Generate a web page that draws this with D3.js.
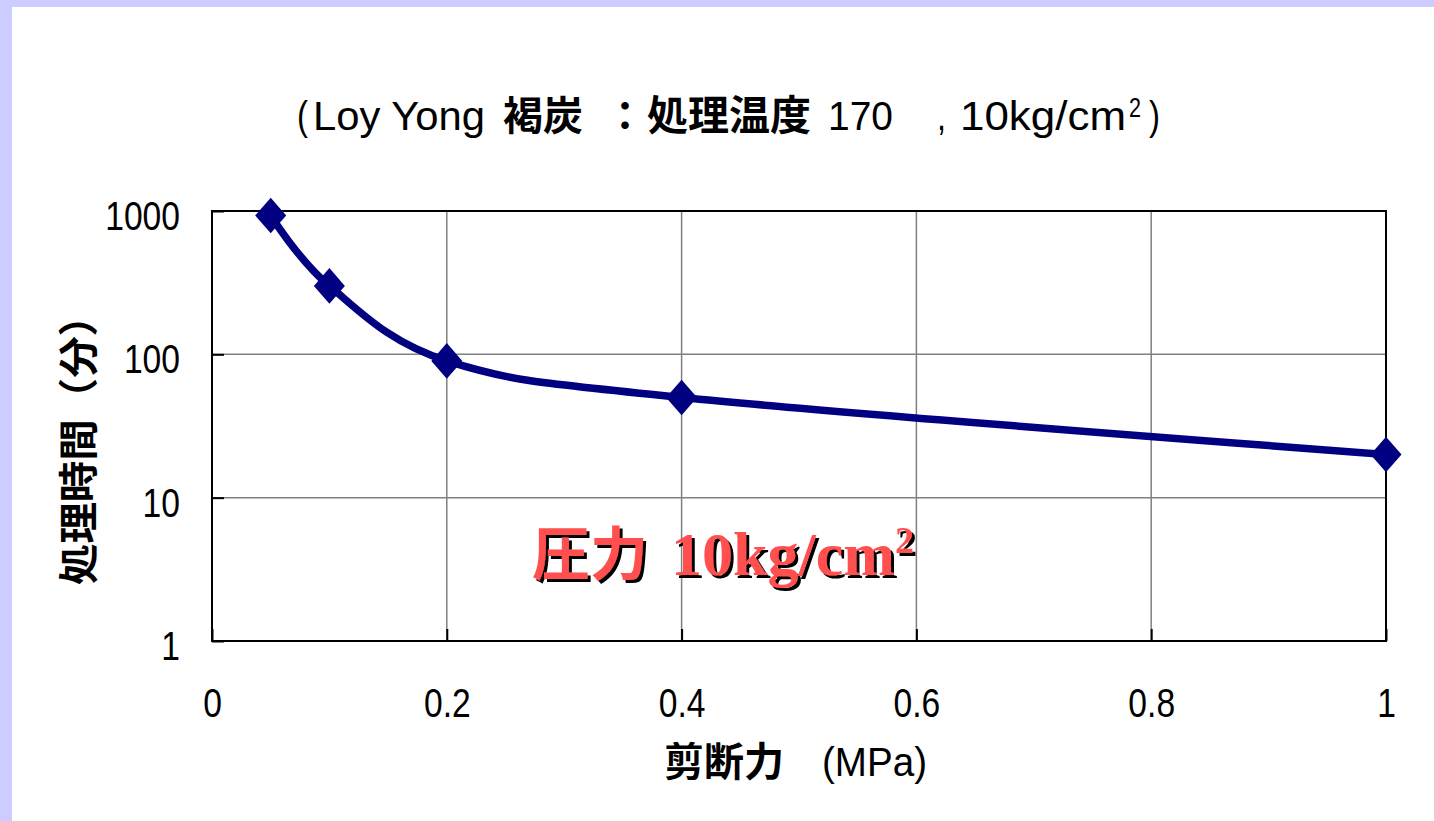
<!DOCTYPE html>
<html>
<head>
<meta charset="utf-8">
<script src="https://cdn.jsdelivr.net/npm/d3@7"></script>
<style>
  html, body { margin: 0; padding: 0; background: #ffffff; }
  svg { display: block; }
</style>
</head>
<body>
<svg id="chart" width="1434" height="821"></svg>
<script>
// Shear strength (MPa) vs. treatment time (min), Loy Yong brown coal
const shear = [0.05, 0.1, 0.2, 0.4, 1.0];
const minutes = [930, 300, 90, 50, 20];
const xTicks = [0, 0.2, 0.4, 0.6, 0.8, 1];
const yTicks = [1, 10, 100, 1000];

const CJK = "'Noto Sans CJK JP', 'Noto Sans CJK SC', sans-serif";
const SANS = "'Liberation Sans', Arial, sans-serif";
const SERIF = "'Liberation Serif', 'Times New Roman', serif";

const svg = d3.select("#chart");
const W = 1434, H = 821;

// squeeze a text horizontally (narrow-face look) by a factor, or to a fixed width
function condense(sel, factor, width) {
  sel.each(function () {
    const w = width != null ? width : this.getComputedTextLength() * factor;
    d3.select(this).attr("lengthAdjust", "spacingAndGlyphs").attr("textLength", w);
  });
}

// drop shadow used by the pressure note
const defs = svg.append("defs");
defs.append("filter").attr("id", "shadow")
  .attr("x", "-10%").attr("y", "-10%").attr("width", "120%").attr("height", "130%")
  .append("feDropShadow")
  .attr("dx", 3).attr("dy", 3).attr("stdDeviation", 0)
  .attr("flood-color", "#000").attr("flood-opacity", 1);

// slide frame
svg.append("rect").attr("width", W).attr("height", H).attr("fill", "#ffffff");
svg.append("rect").attr("x", 0).attr("y", 0).attr("width", W).attr("height", 7).attr("fill", "#ccccff");
svg.append("rect").attr("x", 0).attr("y", 0).attr("width", 12).attr("height", H).attr("fill", "#ccccff");

const plot = { left: 212, right: 1386, top: 211, bottom: 641 };
const x = d3.scaleLinear().domain([0, 1]).range([plot.left, plot.right]);
const y = d3.scaleLog().domain([1, 1000]).range([plot.bottom, plot.top]);

// grid lines
const grid = svg.append("g");
grid.selectAll("line.gx").data(xTicks.slice(1, -1)).join("line")
  .attr("x1", d => x(d)).attr("x2", d => x(d))
  .attr("y1", plot.top).attr("y2", plot.bottom)
  .attr("stroke", "#808080").attr("stroke-width", 1.5);
grid.selectAll("line.gy").data(yTicks.slice(1)).join("line")
  .attr("x1", plot.left).attr("x2", plot.right)
  .attr("y1", d => y(d)).attr("y2", d => y(d))
  .attr("stroke", "#808080").attr("stroke-width", 1.5);

// axes with short inward ticks
const xAxis = d3.axisBottom(x).tickValues(xTicks).tickSize(-12).tickPadding(76)
  .tickFormat(d => d3.format("~g")(d));
const yAxis = d3.axisLeft(y).tickValues(yTicks).tickSize(-12).tickPadding(32)
  .tickFormat(d3.format("d"));

const gx = svg.append("g").attr("transform", `translate(0,${plot.bottom})`).call(xAxis);
const gy = svg.append("g").attr("transform", `translate(${plot.left},0)`).call(yAxis);
[gx, gy].forEach(g => {
  g.select(".domain").remove();
  g.selectAll(".tick line").attr("stroke", "#000").attr("stroke-width", 2);
  g.selectAll(".tick text").attr("fill", "#000")
    .style("font-family", SANS).style("font-size", "41px");
});
gy.selectAll(".tick text").attr("dy", "0.45em");
gx.selectAll(".tick text").attr("dy", "0");
condense(gx.selectAll(".tick text"), 0.82);
condense(gy.selectAll(".tick text"), 0.82);

// plot border
svg.append("rect")
  .attr("x", plot.left).attr("y", plot.top)
  .attr("width", plot.right - plot.left).attr("height", plot.bottom - plot.top)
  .attr("fill", "none").attr("stroke", "#000").attr("stroke-width", 2);

// series line (smoothed)
const pts = shear.map((s, i) => [s, minutes[i]]);
const line = d3.line().x(d => x(d[0])).y(d => y(d[1])).curve(d3.curveCardinal.tension(0));
svg.append("path").datum(pts).attr("d", line)
  .attr("fill", "none").attr("stroke", "#000080").attr("stroke-width", 7.5)
  .attr("stroke-linejoin", "round");

// diamond markers, slightly taller than wide
const diamondType = {
  draw(ctx, size) {
    const hw = Math.sqrt(size) / 2, hh = hw * 1.15;
    ctx.moveTo(0, -hh); ctx.lineTo(hw, 0); ctx.lineTo(0, hh); ctx.lineTo(-hw, 0); ctx.closePath();
  }
};
svg.selectAll("path.mk").data(pts).join("path")
  .attr("class", "mk")
  .attr("d", d3.symbol().type(diamondType).size(961))
  .attr("transform", d => `translate(${x(d[0])},${y(d[1])})`)
  .attr("fill", "#000080");

// title, built from pieces in two faces
const titleY = 130;
const piece = (t, xp, font, size, weight, width, dy) => {
  const s = svg.append("text").attr("x", xp).attr("y", titleY + (dy || 0)).text(t)
    .attr("fill", "#000")
    .style("font-family", font).style("font-size", size + "px").style("font-weight", weight);
  if (width) condense(s, null, width);
  return s;
};
piece("(", 297, SANS, 40, "normal", 11);
piece("Loy Yong", 313, SANS, 40, "normal", 172);
piece("褐炭", 503, CJK, 40, "bold");
piece("：", 605, CJK, 40, "bold");
piece("処理温度", 647, CJK, 41, "bold");
piece("170", 828, SANS, 40, "normal", 65);
piece(",", 937, SANS, 40, "normal", 9);
piece("10kg/cm", 960, SANS, 40, "normal", 166);
piece("2", 1129, SANS, 27, "normal", 12, -13);
piece(")", 1149, SANS, 40, "normal", 11);

// axis titles
const yt = svg.append("text")
  .attr("transform", "translate(93,440) rotate(-90)")
  .attr("text-anchor", "middle")
  .style("font-family", CJK).style("font-size", "40px").style("font-weight", "bold")
  .attr("fill", "#000")
  .text("処理時間（分）");
condense(yt, null, 290);

svg.append("text").attr("x", 664).attr("y", 776).attr("fill", "#000")
  .style("font-family", CJK).style("font-size", "40px").style("font-weight", "bold")
  .text("剪断力");
const mpa = svg.append("text").attr("x", 822).attr("y", 776).attr("fill", "#000")
  .style("font-family", SANS).style("font-size", "40px")
  .text("(MPa)");
condense(mpa, null, 105);

// pressure note
const note = svg.append("text").attr("y", 575).attr("fill", "#ff5050")
  .attr("filter", "url(#shadow)");
note.append("tspan").attr("x", 532).text("圧力")
  .style("font-family", CJK).style("font-size", "58px").style("font-weight", "bold");
note.append("tspan").attr("x", 671).text("10kg/cm")
  .style("font-family", SERIF).style("font-size", "62px").style("font-weight", "bold");
note.append("tspan").text("2").attr("dy", -22)
  .style("font-family", SERIF).style("font-size", "38px").style("font-weight", "bold");
</script>
</body>
</html>
